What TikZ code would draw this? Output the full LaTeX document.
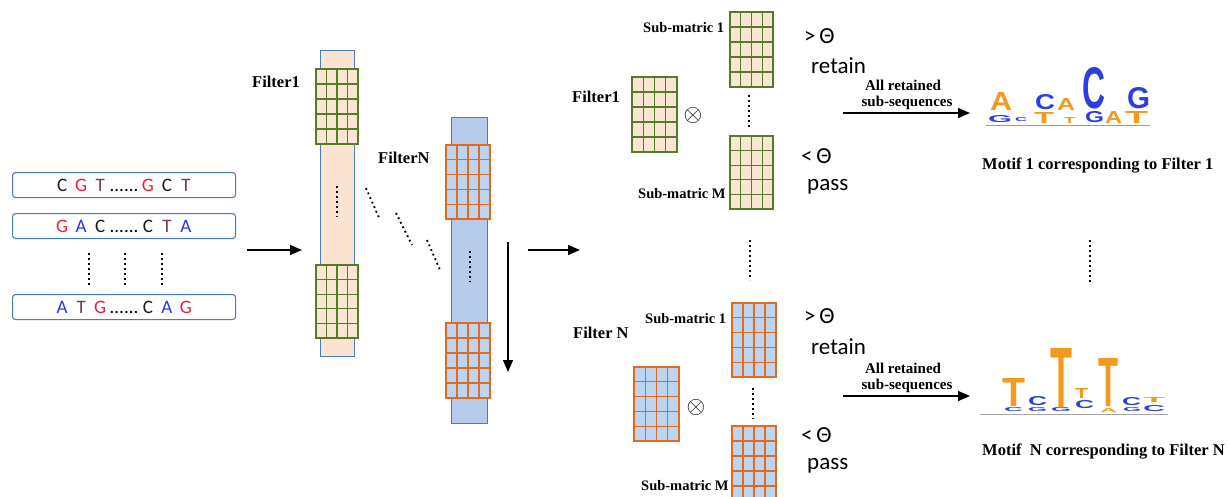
\documentclass[tikz,border=0pt]{standalone}
\usepackage{fontspec}
\setmainfont{Liberation Serif}
\newfontfamily\calfont{Carlito}
\newfontfamily\logofont{Liberation Sans}
\usetikzlibrary{arrows.meta,calc}
\definecolor{seqblue}{HTML}{4A7EBB}
\definecolor{peach}{HTML}{FBE3D2}
\definecolor{peachg}{HTML}{F8E6D2}
\definecolor{stripblue}{HTML}{B7CCEA}
\definecolor{cellblue}{HTML}{BDD4EE}
\definecolor{gridgreen}{HTML}{557A28}
\definecolor{gridorange}{HTML}{E2691E}
\definecolor{nucC}{HTML}{1A1A1A}
\definecolor{nucG}{HTML}{EE1C3A}
\definecolor{nucT}{HTML}{6B3E5E}
\definecolor{nucA}{HTML}{2B35E5}
\definecolor{logoO}{HTML}{F39A1E}
\definecolor{logoB}{HTML}{2A3FE0}
\newcommand\nb[2]{\makebox[19pt]{\textcolor{#1}{#2}}}
\newcommand\mgrid[7]{%
  \node[draw=#7, fill=#6, line width=1.3pt, inner sep=0, outer sep=0,
        minimum width={#4-#2}, minimum height={#5-#3}, anchor=north west] (#1) at (#2,#3) {};
  \foreach \i in {1,2,3}
    \draw[#7, line width=1.3pt] ($(#1.north west)!\i/4!(#1.north east)$) -- ($(#1.south west)!\i/4!(#1.south east)$);
  \foreach \j in {1,2,3,4}
    \draw[#7, line width=1.3pt] ($(#1.north west)!\j/5!(#1.south west)$) -- ($(#1.north east)!\j/5!(#1.south east)$);
}
\newcommand\logoletter[7]{%
  \node[inner sep=0, outer sep=0, anchor=south west, text=#7] (#1) at (#2,#3)
    {\resizebox{#4pt}{#5pt}{\logofont\bfseries #6}};
}
\begin{document}
\begin{tikzpicture}[x=1pt,y=-1pt,
  seqbox/.style={draw=seqblue, line width=1.1pt, rounded corners=3pt, fill=white,
     minimum width=223pt, minimum height=25pt, inner sep=0, anchor=north west,
     font=\calfont\fontsize{19}{19}\selectfont},
  lbl/.style={font=\fontsize{16.5}{18}\selectfont\bfseries, inner sep=0, anchor=west},
  sublbl/.style={font=\fontsize{14.5}{16}\selectfont\bfseries, inner sep=0, anchor=west},
  arrlbl/.style={font=\fontsize{15}{16}\selectfont\bfseries, inner sep=0},
  cmp/.style={font=\calfont\fontsize{23}{23}\selectfont, inner sep=0, anchor=west},
  dotline/.style={line width=1.8pt, dash pattern=on 1.8pt off 3.2pt},
  arr/.style={line width=1.3pt, -{Triangle[length=12pt,width=10pt]}},
  strip/.style={line width=1pt, draw=seqblue, inner sep=0, outer sep=0, anchor=north west}
]
\useasboundingbox (0,0) rectangle (1229,496);

% ---------- input sequences ----------
\node[seqbox] (q1) at (12,172) {\nb{nucC}{C}\nb{nucG}{G}\nb{nucT}{T}......\nb{nucG}{G}\nb{nucC}{C}\nb{nucT}{T}};
\node[seqbox] (q2) at (12,213) {\nb{nucG}{G}\nb{nucA}{A}\nb{nucC}{C}......\nb{nucC}{C}\nb{nucT}{T}\nb{nucA}{A}};
\node[seqbox] (q3) at (12,294) {\nb{nucA}{A}\nb{nucT}{T}\nb{nucG}{G}......\nb{nucC}{C}\nb{nucA}{A}\nb{nucG}{G}};
\foreach \x in {89,125,162}
  \draw[dotline] (\x,253) -- (\x,285);

\coordinate (a1s) at (247,250);
\coordinate (a1e) at (302,250);
\draw[arr] (a1s) -- (a1e);

% ---------- filter strips ----------
\node[strip, fill=peach, minimum width=34pt, minimum height=306pt] (s1) at (320,50) {};
\mgrid{s1g1}{316}{69}{358}{144}{peachg}{gridgreen}
\mgrid{s1g2}{316}{265}{358}{338}{peachg}{gridgreen}
\draw[dotline] (337,186) -- (337,217);
\node[lbl] (f1) at (252,82) {Filter1};

\node[strip, fill=stripblue, minimum width=36pt, minimum height=306pt] (sN) at (451,117) {};
\mgrid{sNg1}{446}{145}{490}{219}{cellblue}{gridorange}
\mgrid{sNg2}{446}{323}{490}{398}{cellblue}{gridorange}
\draw[dotline] (470,251) -- (470,282);
\node[lbl] (fN) at (378,158) {FilterN};

\draw[dotline] (366,188) -- (380,220);
\draw[dotline] (396,213) -- (412,245);
\draw[dotline] (427,240) -- (440,270);

\coordinate (dn1) at (508,242);
\coordinate (dn2) at (508,372);
\draw[arr] (dn1) -- (dn2);
\coordinate (a2s) at (528,250);
\coordinate (a2e) at (580,250);
\draw[arr] (a2s) -- (a2e);

% ---------- top right: filter 1 ----------
\node[lbl] (rf1) at (572,97) {Filter1};
\mgrid{tf}{632}{77}{677}{152}{peachg}{gridgreen}
\node[inner sep=0] (tx1) at (693,115) {\scalebox{2.4}{$\otimes$}};
\mgrid{tsa}{730}{12}{773}{87}{peachg}{gridgreen}
\mgrid{tsm}{730}{136}{773}{209}{peachg}{gridgreen}
\draw[dotline] (749,95) -- (749,127);
\node[sublbl] (tl1) at (643,28) {Sub-matric 1};
\node[sublbl] (tlm) at (638,194) {Sub-matric M};
\node[cmp] (tg) at (804,36) {>\,Θ};
\node[cmp] (tr) at (811,66) {retain};
\node[cmp] (tl) at (801,156) {<\,Θ};
\node[cmp] (tp) at (807,187) {pass};

\node[arrlbl] (tar1) at (903,85) {All retained};
\node[arrlbl] (tar2) at (907,103) {sub-sequences};
\coordinate (a3s) at (843,113);
\coordinate (a3e) at (970,113);
\draw[arr] (a3s) -- (a3e);

% motif logo 1
\draw[logoB!55, line width=0.8pt] (986,125) -- (1150,125);
\logoletter{m1}{990}{110}{22}{18}{A}{logoO}
\logoletter{m2}{1035}{110}{20}{15}{C}{logoB}
\logoletter{m3}{1057}{110}{18}{12}{A}{logoO}
\logoletter{m4}{1082}{109}{23}{41}{C}{logoB}
\logoletter{m5}{1127}{109}{23}{21}{G}{logoB}
\logoletter{m6}{988}{123}{24}{7}{G}{logoB}
\logoletter{m7}{1015}{122}{12}{4}{C}{logoB}
\logoletter{m8}{1034}{123}{20}{11}{T}{logoO}
\logoletter{m9}{1064}{123}{11}{6}{T}{logoO}
\logoletter{m10}{1085}{123}{19}{11}{G}{logoB}
\logoletter{m11}{1105}{123}{17}{12}{A}{logoO}
\logoletter{m12}{1125}{123}{23}{12}{T}{logoO}
\node[lbl] (mt1) at (982,166) {Motif 1 corresponding to Filter 1};

% middle vertical dots
\draw[dotline] (750,240) -- (750,280);
\draw[dotline] (1090,240) -- (1090,282);

% ---------- bottom right: filter N ----------
\node[lbl] (rfN) at (573,333) {Filter N};
\mgrid{bf}{634}{367}{679}{441}{cellblue}{gridorange}
\node[inner sep=0] (tx2) at (696,407) {\scalebox{2.4}{$\otimes$}};
\mgrid{bsa}{732}{303}{776}{377}{cellblue}{gridorange}
\mgrid{bsm}{732}{426}{776}{501}{cellblue}{gridorange}
\draw[dotline] (753,388) -- (753,419);
\node[sublbl] (bl1) at (645,319) {Sub-matric 1};
\node[sublbl] (blm) at (641,486) {Sub-matric M};
\node[cmp] (bg) at (804,316) {>\,Θ};
\node[cmp] (br) at (811,347) {retain};
\node[cmp] (bl) at (801,435) {<\,Θ};
\node[cmp] (bp) at (807,466) {pass};

\node[arrlbl] (bar1) at (903,368) {All retained};
\node[arrlbl] (bar2) at (907,386) {sub-sequences};
\coordinate (a4s) at (843,396);
\coordinate (a4e) at (970,396);
\draw[arr] (a4s) -- (a4e);

% motif logo N
\draw[black!35, line width=0.8pt] (980,414) -- (1168,414);
\logoletter{n1}{1002}{406}{23}{28}{T}{logoO}
\logoletter{n2}{1028}{406}{19}{9}{C}{logoB}
\logoletter{n3}{1050}{407}{22}{59}{T}{logoO}
\logoletter{n4}{1075}{398}{13}{10}{T}{logoO}
\logoletter{n5}{1075}{409}{19}{8}{C}{logoB}
\logoletter{n6}{1098}{406}{20}{48}{T}{logoO}
\logoletter{n7}{1122}{406}{19}{8}{C}{logoB}
\logoletter{n8}{1143}{402}{22}{5}{T}{logoO}
\logoletter{n9}{1143}{412}{22}{6}{C}{logoB}
\logoletter{n10}{1004}{412}{19}{4}{C}{logoB}
\logoletter{n11}{1028}{412}{19}{4}{G}{logoB}
\logoletter{n12}{1051}{412}{20}{4}{G}{logoB}
\logoletter{n13}{1100}{412}{17}{4}{A}{logoO}
\logoletter{n14}{1123}{412}{18}{4}{G}{logoB}
\node[lbl] (mtN) at (982,452) {Motif~~N corresponding to Filter N};
\end{tikzpicture}
\end{document}
